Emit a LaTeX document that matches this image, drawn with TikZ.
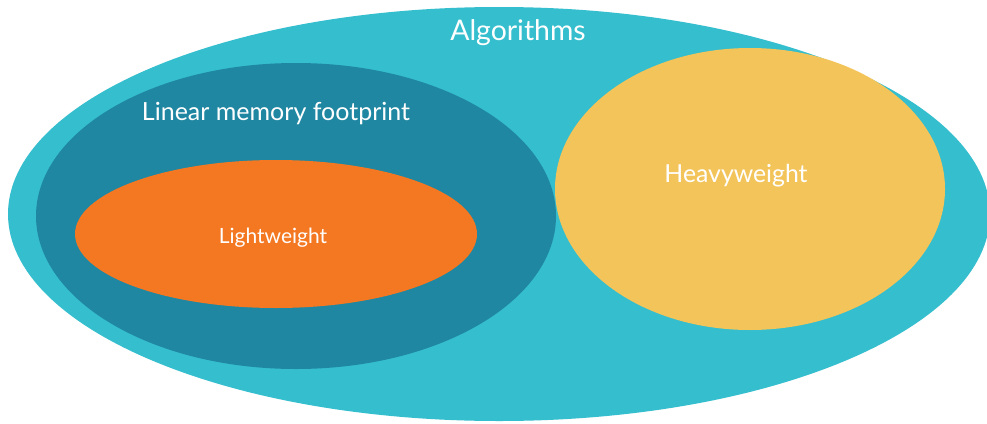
\documentclass[tikz,border=0pt]{standalone}
\usepackage{fontspec}
\setmainfont{Lato}
\definecolor{outerc}{HTML}{35BECD}
\definecolor{darkc}{HTML}{1F87A2}
\definecolor{orangec}{HTML}{F47721}
\definecolor{yellowc}{HTML}{F3C45A}
\begin{document}
\begin{tikzpicture}[x=1pt,y=-1pt,
  lbl/.style={text=white, inner sep=0pt, anchor=center}]
\useasboundingbox (0,0) rectangle (987,423);
\begin{scope}
\clip (0,0) rectangle (987,423);
\fill[outerc] (499,214) ellipse [x radius=491, y radius=207];
\end{scope}
\fill[darkc] (296,216) ellipse [x radius=260, y radius=153];
\fill[orangec] (276,234) ellipse [x radius=201, y radius=74];
\fill[yellowc] (750,189) ellipse [x radius=195, y radius=141];
\node[lbl, font=\fontsize{28.4}{32}\selectfont] (alg) at (518,33) {Algorithms};
\node[lbl, font=\fontsize{25}{30}\selectfont] (lin) at (276,114) {Linear memory footprint};
\node[lbl, font=\fontsize{24.8}{30}\selectfont] (heavy) at (736,176) {Heavyweight};
\node[lbl, font=\fontsize{21}{25}\selectfont] (light) at (273,238) {Lightweight};
\end{tikzpicture}
\end{document}
